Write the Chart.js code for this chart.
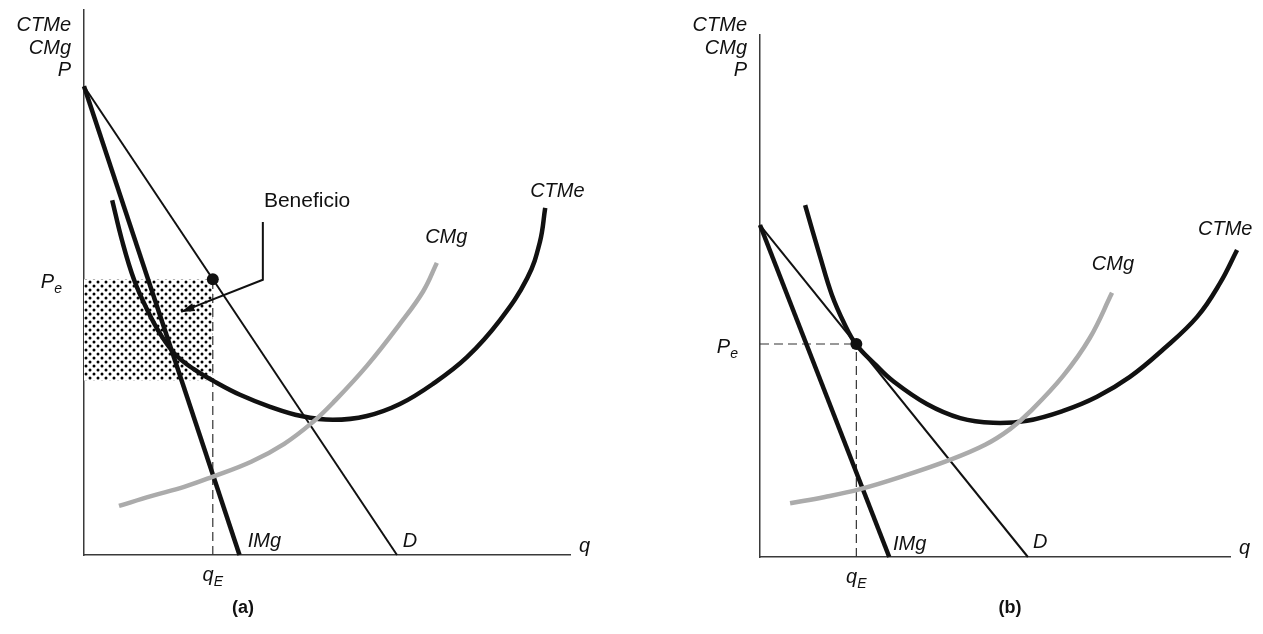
<!DOCTYPE html>
<html lang="es">
<head>
<meta charset="UTF-8">
<title>Monopolio: beneficio a corto y a largo plazo</title>
<script src="https://cdn.jsdelivr.net/npm/chart.js"></script>
<style>
  body { margin: 0; background: #fff; }
  canvas { position: absolute; top: 0; }
  #panelA { left: 0; }
  #panelB { left: 631px; }
</style>
</head>
<body>
<canvas id="panelA" width="631" height="634"></canvas>
<canvas id="panelB" width="632" height="634"></canvas>
<script>
// Both panels: q runs 0-100 along x, cost / price 0-100 along y.

// (a) short run, with profit
const demandA = [[0, 86], [64.4, 0]];
const imgA = [[0, 86], [32, 0]];
const ctmeA = [[5.8, 65.1], [7.8, 57.8], [10.3, 50.5], [13.0, 45.0], [15.8, 40.4], [18.9, 36.7],
  [22.6, 34.1], [26.7, 31.9], [32.1, 29.4], [38.3, 27.2], [44.7, 25.5], [51.2, 24.8],
  [58.2, 25.5], [65.0, 27.7], [71.8, 31.4], [78.8, 36.3], [85.6, 43.1], [91.2, 50.8],
  [93.8, 57.4], [94.9, 63.7]];
const cmgA = [[7.2, 9.0], [13.8, 10.8], [20.6, 12.5], [26.3, 14.3], [34.4, 17.1], [41.2, 20.4],
  [47.1, 24.4], [51.2, 27.9], [58.2, 34.7], [65.0, 42.4], [69.8, 48.4], [72.6, 53.6]];
const qeA = 26.5;
const peA = 50.6;
const costAtQeA = 32.0;

// (b) long run, zero profit (CTMe tangent to D)
const demandB = [[0, 63.6], [57.0, 0]];
const imgB = [[0, 63.6], [27.5, 0]];
const ctmeB = [[9.6, 67.4], [12.8, 57.5], [15.3, 50.2], [17.9, 44.8], [20.4, 40.8], [24.5, 36.9],
  [28.3, 33.7], [35.5, 29.3], [42.6, 26.6], [49.6, 25.7], [56.8, 26.1], [64.5, 28.0],
  [71.7, 30.7], [78.7, 34.5], [85.7, 39.7], [93.0, 46.0], [97.9, 52.5], [101.5, 58.8]];
const cmgB = [[6.4, 10.3], [13.8, 11.5], [21.3, 13.0], [29.8, 15.3], [40.4, 18.6], [47.9, 21.5],
  [53.2, 24.5], [57.4, 27.8], [64.5, 34.7], [70.2, 42.0], [74.9, 50.6]];
const qeB = 20.5;
const peB = 40.8;

const INK = '#111';
const GREY = '#ababab';
const AXIS = '#3a3a3a';
const FONT = '"Liberation Sans", Arial, Helvetica, sans-serif';

function pts(arr) {
  return arr.map(([x, y]) => ({ x, y }));
}

// halftone dots for the profit area
function dotPattern(ctx) {
  const tile = document.createElement('canvas');
  tile.width = 8;
  tile.height = 8;
  const t = tile.getContext('2d');
  t.fillStyle = '#fff';
  t.fillRect(0, 0, 8, 8);
  t.fillStyle = '#000';
  [[2, 2], [6, 6]].forEach(([x, y]) => {
    t.beginPath();
    t.arc(x, y, 1.5, 0, Math.PI * 2);
    t.fill();
  });
  return ctx.createPattern(tile, 'repeat');
}

function line(data, color, width, extra) {
  return Object.assign({
    data: pts(data), borderColor: color, borderWidth: width,
    pointRadius: 0, fill: false, clip: false, tension: 0
  }, extra || {});
}

function italic(size) { return 'italic ' + size + 'px ' + FONT; }

function sub(ctx, main, small, x, y, align) {
  ctx.font = italic(20);
  const w1 = ctx.measureText(main).width;
  ctx.font = italic(14);
  const w2 = ctx.measureText(small).width;
  let left = x;
  if (align === 'right') left = x - w1 - w2;
  if (align === 'center') left = x - (w1 + w2) / 2;
  ctx.textAlign = 'left';
  ctx.font = italic(20);
  ctx.fillText(main, left, y);
  ctx.font = italic(14);
  ctx.fillText(small, left + w1, y + 5);
}

function buildPanel(id, p) {
  const canvas = document.getElementById(id);
  const ctx = canvas.getContext('2d');

  const datasets = [
    line(p.demand, INK, 2, { order: 3 }),
    line(p.img, INK, 4.5, { order: 2 }),
    line(p.ctme, INK, 4.5, { tension: 0.4, order: 4 }),
    line(p.cmg, GREY, 4.5, { tension: 0.4, order: 1 }),
    line([[p.qe, 0], [p.qe, p.pe]], '#333', 1.2, { borderDash: [9, 5], order: 6 })
  ];
  if (p.profitBase !== undefined) {
    datasets.push(line([[0, p.pe], [p.qe, p.pe]], 'rgba(0,0,0,0)', 0,
      { fill: '+1', backgroundColor: dotPattern(ctx), order: 7 }));
    datasets.push(line([[0, p.profitBase], [p.qe, p.profitBase]], 'rgba(0,0,0,0)', 0, { order: 8 }));
  } else {
    datasets.push(line([[0, p.pe], [p.qe, p.pe]], '#333', 1.2, { borderDash: [9, 5], order: 6 }));
  }
  datasets.push(line([[p.qe, p.pe]], INK, 0,
    { pointRadius: 6, pointBackgroundColor: INK, pointBorderWidth: 0, showLine: false, order: 0 }));

  const axis = {
    type: 'linear', min: 0, max: 100,
    grid: { display: false, drawTicks: false },
    ticks: { display: false },
    border: { color: AXIS, width: 1.5 }
  };

  const labels = {
    id: 'labels',
    afterDraw(chart) {
      const c = chart.ctx;
      const xs = chart.scales.x, ys = chart.scales.y;
      const X = v => xs.getPixelForValue(v), Y = v => ys.getPixelForValue(v);
      const area = chart.chartArea;
      c.save();
      c.fillStyle = INK;
      c.textBaseline = 'alphabetic';

      // axis title stack
      c.font = italic(20);
      c.textAlign = 'right';
      ['CTMe', 'CMg', 'P'].forEach((s, i) => c.fillText(s, area.left - 13, 31 + i * 22.5));

      // curve names, placed in data units
      p.names.forEach(n => {
        c.font = italic(20);
        c.textAlign = 'left';
        c.fillText(n.text, X(n.q), Y(n.v));
      });

      // q axis
      c.font = italic(20);
      c.textAlign = 'left';
      c.fillText('q', area.right + 9, area.bottom - 3);

      sub(c, 'P', 'e', area.left - 22, Y(p.pe) + 9, 'right');
      sub(c, 'q', 'E', X(p.qe), area.bottom + 26, 'center');

      // panel caption
      c.font = 'bold 18px ' + FONT;
      c.textAlign = 'center';
      c.fillText(p.caption, p.captionX, 613);

      if (p.note) {
        c.font = '21px ' + FONT;
        c.textAlign = 'center';
        c.fillText(p.note.text, X(p.note.q), Y(p.note.v));
        const path = p.note.path.map(([q, v]) => [X(q), Y(v)]);
        c.strokeStyle = INK;
        c.lineWidth = 2;
        c.beginPath();
        path.forEach(([x, y], i) => i ? c.lineTo(x, y) : c.moveTo(x, y));
        c.stroke();
        const [x1, y1] = path[path.length - 2];
        const [x2, y2] = path[path.length - 1];
        const a = Math.atan2(y2 - y1, x2 - x1);
        c.beginPath();
        c.moveTo(x2, y2);
        c.lineTo(x2 - 14 * Math.cos(a - 0.3), y2 - 14 * Math.sin(a - 0.3));
        c.lineTo(x2 - 14 * Math.cos(a + 0.3), y2 - 14 * Math.sin(a + 0.3));
        c.closePath();
        c.fill();
      }
      c.restore();
    }
  };

  return new Chart(ctx, {
    type: 'line',
    data: { datasets },
    options: {
      responsive: false,
      animation: false,
      events: [],
      layout: { padding: p.padding },
      plugins: { legend: { display: false }, tooltip: { enabled: false } },
      scales: { x: axis, y: axis }
    },
    plugins: [labels]
  });
}

buildPanel('panelA', {
  demand: demandA, img: imgA, ctme: ctmeA, cmg: cmgA,
  qe: qeA, pe: peA, profitBase: costAtQeA,
  padding: { left: 84, top: 10, right: 61, bottom: 79 },
  caption: '(a)', captionX: 243,
  names: [
    { text: 'CTMe', q: 91.8, v: 65.7 },
    { text: 'CMg', q: 70.2, v: 57.2 },
    { text: 'IMg', q: 33.7, v: 1.5 },
    { text: 'D', q: 65.6, v: 1.5 }
  ],
  note: { text: 'Beneficio', q: 45.9, v: 63.9, path: [[36.8, 61.1], [36.8, 50.5], [20.0, 44.6]] }
});

buildPanel('panelB', {
  demand: demandB, img: imgB, ctme: ctmeB, cmg: cmgB,
  qe: qeB, pe: peB,
  padding: { left: 129, top: 35, right: 33, bottom: 77 },
  caption: '(b)', captionX: 379,
  names: [
    { text: 'CTMe', q: 93.2, v: 61.7 },
    { text: 'CMg', q: 70.6, v: 55.0 },
    { text: 'IMg', q: 28.3, v: 1.3 },
    { text: 'D', q: 58.1, v: 1.7 }
  ]
});
</script>
</body>
</html>
